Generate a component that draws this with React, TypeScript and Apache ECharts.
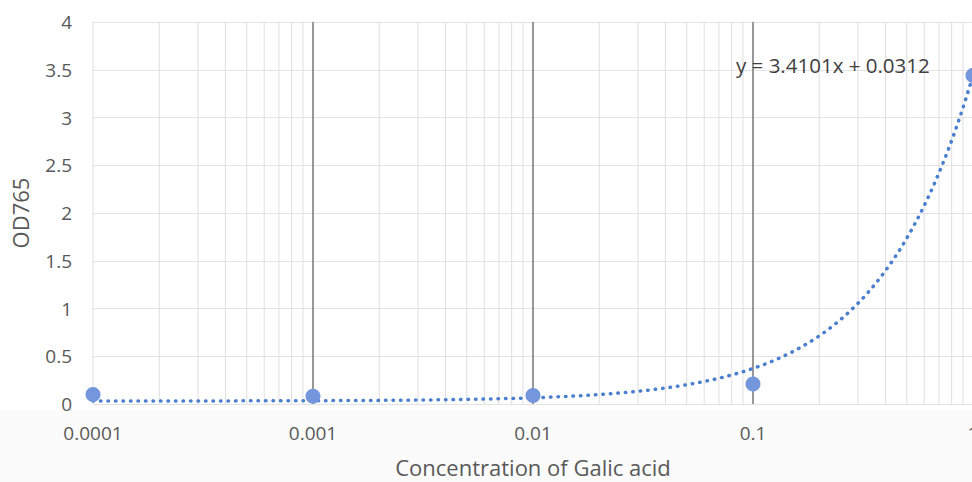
import React, { useEffect, useRef } from "react";
import * as echarts from "echarts";

const concentrations = [0.0001, 0.001, 0.01, 0.1, 1];
const od765 = [0.1, 0.08, 0.09, 0.21, 3.44];
const decades = [0.0001, 0.001, 0.01, 0.1];
const majorLines = [0.001, 0.01, 0.1, 1];
const minorMultipliers = [2, 3, 4, 5, 6, 7, 8, 9];
const trendSlope = 3.4101;
const trendIntercept = 0.0312;
const equationText = "y = 3.4101x + 0.0312";
const xTitle = "Concentration of Galic acid";
const yTitle = "OD765";
const tickLabels: Record<string, string> = {
  "0.0001": "0.0001",
  "0.001": "0.001",
  "0.01": "0.01",
  "0.1": "0.1",
  "1": "1",
};

const FONT = "'Open Sans', sans-serif";

export default function App() {
  const ref = useRef<HTMLDivElement>(null);
  useEffect(() => {
    if (!ref.current) return;
    const chart = echarts.init(ref.current, null, { renderer: "svg" });

    const minorValues: number[] = [0.0001];
    decades.forEach((d) => minorMultipliers.forEach((m) => minorValues.push(+(d * m).toPrecision(3))));

    // trendline sampled along the log axis from the displayed equation
    const trend: number[][] = [];
    const steps = 240;
    for (let i = 0; i <= steps; i++) {
      const x = Math.pow(10, -4 + (4 * i) / steps);
      trend.push([x, trendSlope * x + trendIntercept]);
    }

    const vLine = (v: number, color: string, width: number, z: number) => ({
      type: "line",
      data: [
        [v, 0],
        [v, 4],
      ],
      symbol: "none",
      showSymbol: false,
      silent: true,
      lineStyle: { color, width, type: "solid" },
      z,
    });

    chart.setOption({
      animation: false,
      backgroundColor: "#ffffff",
      grid: { left: 93, top: 22, width: 880, height: 382, outerBoundsMode: "none", containLabel: false },
      graphic: [
        {
          type: "rect",
          left: 0,
          top: 410,
          shape: { width: 972, height: 72 },
          style: { fill: "#fbfbfb" },
          silent: true,
          z: -10,
        },
        {
          type: "text",
          left: 736,
          top: 54,
          style: { text: equationText, font: `20.5px ${FONT}`, fill: "#404040" },
          z: 10,
        },
      ],
      xAxis: {
        type: "log",
        logBase: 10,
        min: 0.0001,
        max: 1,
        name: xTitle,
        nameLocation: "middle",
        nameGap: 52,
        nameTextStyle: { fontFamily: FONT, fontSize: 22, color: "#595959" },
        axisLine: { show: false },
        axisTick: { show: false },
        splitLine: { show: false },
        axisLabel: {
          fontFamily: FONT,
          fontSize: 19,
          color: "#595959",
          margin: 19,
          formatter: (v: number) => tickLabels[String(+v.toPrecision(3))] ?? "",
        },
      },
      yAxis: {
        type: "value",
        min: 0,
        max: 4,
        interval: 0.5,
        name: yTitle,
        nameLocation: "middle",
        nameGap: 62,
        nameTextStyle: { fontFamily: FONT, fontSize: 22, color: "#595959" },
        axisLine: { show: false },
        axisTick: { show: false },
        splitLine: { show: true, lineStyle: { color: "#e3e3e3", width: 1 } },
        axisLabel: { fontFamily: FONT, fontSize: 19, color: "#595959", margin: 21 },
      },
      series: [
        ...minorValues.map((v) => vLine(v, "#dedede", 1, 1)),
        ...majorLines.map((v) => vLine(v, "#767676", 1.5, 2)),
        {
          type: "line",
          name: "trend",
          data: trend,
          showSymbol: false,
          symbol: "none",
          lineStyle: { color: "#4a7fd0", width: 3.5, type: [0.5, 7], cap: "round" },
          z: 3,
        },
        {
          type: "scatter",
          name: "data",
          data: concentrations.map((c, i) => [c, od765[i]]),
          symbol: "circle",
          symbolSize: 15,
          itemStyle: { color: "#7496dc", opacity: 1 },
          z: 4,
        },
      ],
    });
    return () => chart.dispose();
  }, []);
  return <div ref={ref} style={{ width: 972, height: 482, position: "absolute", left: 0, top: 0 }} />;
}
